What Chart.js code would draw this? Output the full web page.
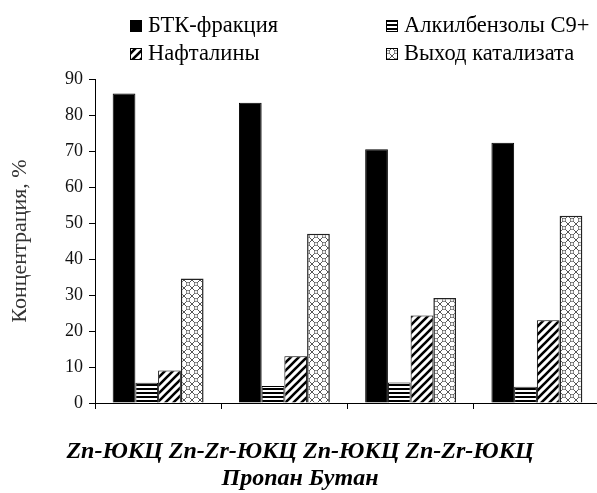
<!DOCTYPE html>
<html>
<head>
<meta charset="utf-8">
<script src="https://cdn.jsdelivr.net/npm/chart.js@4/dist/chart.umd.min.js"></script>
<style>
  body { margin: 0; background: #fff; overflow: hidden; }
  #wrap { width: 600px; height: 493px; }
</style>
</head>
<body>
<div id="wrap"><canvas id="myChart" width="600" height="493"></canvas></div>
<script>
// categories (катализатор + сырьё)
const categories = ['Zn-ЮКЦ пропан', 'Zn-Zr-ЮКЦ пропан', 'Zn-ЮКЦ бутан', 'Zn-Zr-ЮКЦ бутан'];
const seriesNames = ['БТК-фракция', 'Алкилбензолы С9+', 'Нафталины', 'Выход катализата'];

const btk = [86, 83.4, 70.5, 72.3];
const alkyl = [5.6, 4.7, 5.7, 4.5];
const naphth = [9.0, 13.0, 24.3, 23.0];
const yieldCat = [34.6, 47.0, 29.2, 52.0];

const caption = ['Zn-ЮКЦ Zn-Zr-ЮКЦ Zn-ЮКЦ Zn-Zr-ЮКЦ', 'Пропан Бутан'];
const yTitle = 'Концентрация, %';

const serifFam = "'Liberation Serif', 'Times New Roman', serif";

// patterns
function makePattern(w, h, draw) {
    const c = document.createElement('canvas');
    c.width = w; c.height = h;
    const g = c.getContext('2d');
    g.fillStyle = '#fff';
    g.fillRect(0, 0, w, h);
    draw(g);
    return g.createPattern(c, 'repeat');
}
const ctx = document.getElementById('myChart').getContext('2d');

const stripes = makePattern(4, 4, function(g){
    g.fillStyle = '#000';
    g.fillRect(0, 0, 4, 2);
});
const hatch = makePattern(8, 8, function(g){
    g.strokeStyle = '#000';
    g.lineWidth = 2.6;
    g.beginPath();
    g.moveTo(-2, 10); g.lineTo(10, -2);
    g.moveTo(-2, 2); g.lineTo(2, -2);
    g.moveTo(6, 10); g.lineTo(10, 6);
    g.stroke();
});
const cross = makePattern(8, 8, function(g){
    g.strokeStyle = '#555';
    g.lineWidth = 1;
    g.beginPath();
    g.moveTo(0, 0); g.lineTo(8, 8);
    g.moveTo(8, 0); g.lineTo(0, 8);
    g.stroke();
    g.fillStyle = '#fff';
    g.beginPath();
    g.arc(4, 4, 1.6, 0, Math.PI * 2);
    g.fill();
    g.strokeStyle = '#888';
    g.beginPath();
    g.arc(4, 4, 1.6, 0, Math.PI * 2);
    g.stroke();
});

// legend drawn on canvas, two columns: [box x, text x, y]
const legendPos = [[130, 148, 26], [386, 404, 26], [130, 148, 54], [386, 404, 54]];
const boxLegend = {
    id: 'boxLegend',
    afterDraw(chart) {
        const c = chart.ctx;
        c.save();
        c.font = '22.5px ' + serifFam;
        c.textBaseline = 'middle';
        c.textAlign = 'left';
        chart.data.datasets.forEach(function(ds, i){
            const p = legendPos[i];
            c.fillStyle = ds.backgroundColor;
            c.fillRect(p[0], p[2] - 6, 12, 12);
            c.strokeStyle = '#000';
            c.lineWidth = 1;
            c.strokeRect(p[0] + 0.5, p[2] - 5.5, 11, 11);
            c.fillStyle = '#000';
            c.fillText(ds.label, p[1], p[2]);
        });
        c.restore();
    }
};

const myChart = new Chart(ctx, {
    type: 'bar',
    data: {
        labels: categories,
        datasets: [
            { label: seriesNames[0], data: btk, backgroundColor: '#000', borderColor: '#000', borderWidth: 1 },
            { label: seriesNames[1], data: alkyl, backgroundColor: stripes, borderColor: '#000', borderWidth: 1 },
            { label: seriesNames[2], data: naphth, backgroundColor: hatch, borderColor: '#000', borderWidth: 1 },
            { label: seriesNames[3], data: yieldCat, backgroundColor: cross, borderColor: '#222', borderWidth: 1.5 }
        ]
    },
    options: {
        responsive: false,
        animation: false,
        layout: { padding: { top: 79, left: 0, right: 0, bottom: 0 } },
        datasets: { bar: { categoryPercentage: 0.72, barPercentage: 1 } },
        plugins: {
            legend: { display: false },
            tooltip: { enabled: false },
            title: {
                display: true,
                position: 'bottom',
                text: caption,
                color: '#000',
                font: { family: serifFam, size: 24, weight: 'bold', style: 'italic', lineHeight: 1.125 },
                padding: { top: 10, bottom: 1 }
            }
        },
        scales: {
            x: {
                grid: { offset: true, drawOnChartArea: false, tickLength: 6, color: '#000' },
                border: { color: '#000', width: 1 },
                ticks: { callback: function(){ return ''; } },
                afterFit: function(scale){ scale.height = 25; }
            },
            y: {
                min: 0,
                max: 90,
                grid: { drawOnChartArea: false, tickLength: 6, color: '#000' },
                border: { color: '#000', width: 1 },
                ticks: {
                    stepSize: 5,
                    padding: 6,
                    color: '#111',
                    font: { family: serifFam, size: 18 },
                    callback: function(v){ return v % 10 === 0 ? v : ''; }
                },
                title: {
                    display: true,
                    text: yTitle,
                    color: '#333',
                    font: { family: serifFam, size: 22 },
                    padding: { top: 7, bottom: 0 }
                },
                afterFit: function(scale){ scale.width = 95; }
            }
        }
    },
    plugins: [boxLegend]
});
</script>
</body>
</html>
